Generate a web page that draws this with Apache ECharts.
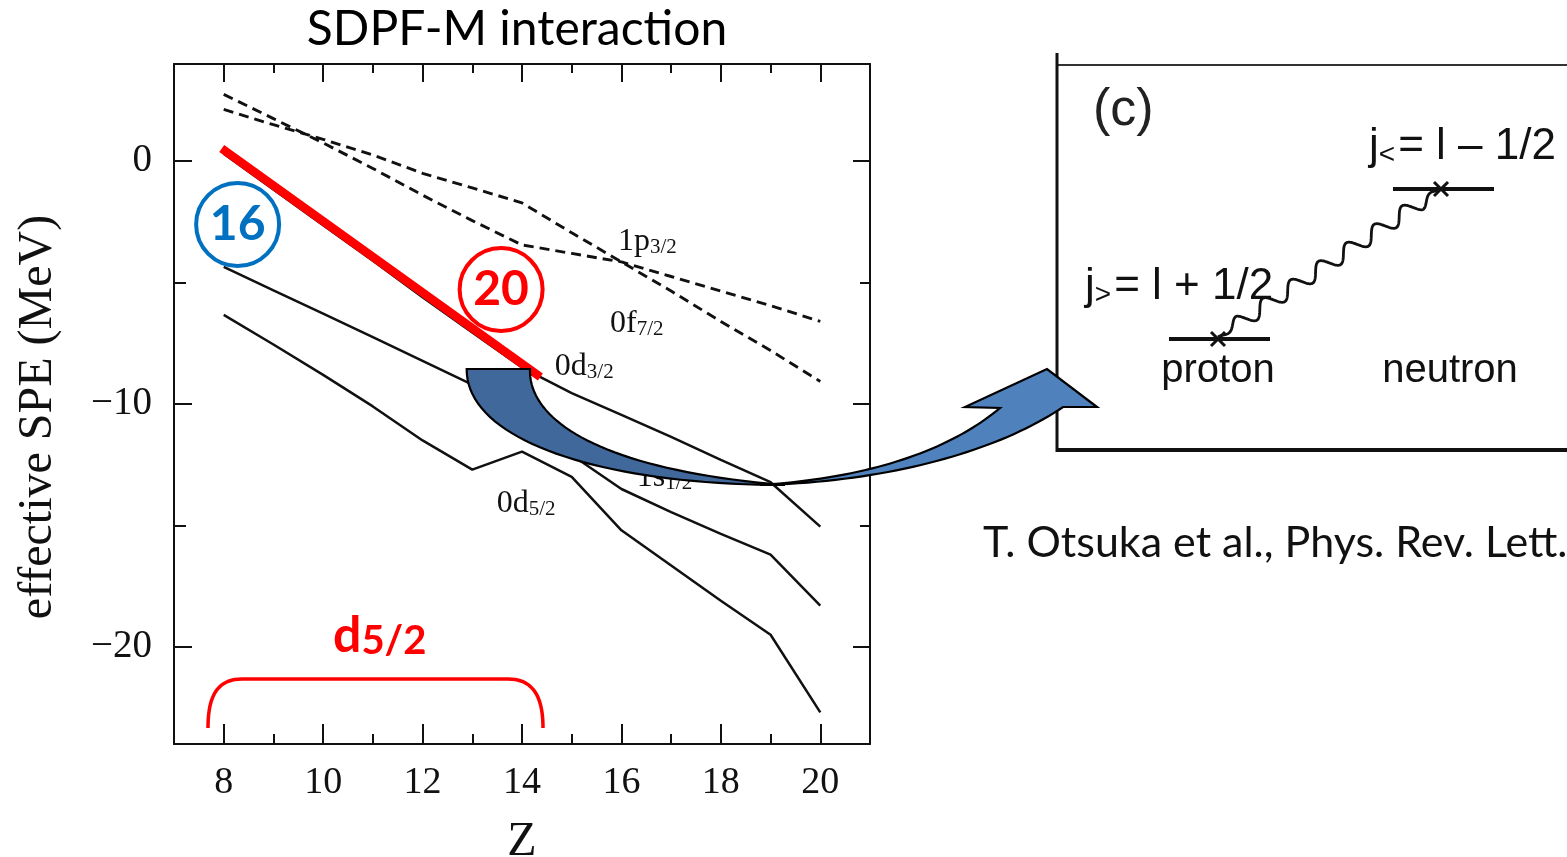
<!DOCTYPE html>
<html><head><meta charset="utf-8">
<script src="https://cdn.jsdelivr.net/npm/echarts@6/dist/echarts.min.js"></script>
<style>html,body{margin:0;padding:0;background:#fff;}#c{width:1567px;height:857px;}</style>
</head><body><div id="c"></div>
<script>
// ---- data ----
const zValues = [8, 9, 10, 11, 12, 13, 14, 15, 16, 17, 18, 19, 20];
const p32 = [2.75, 1.75, 0.75, -0.3, -1.4, -2.45, -3.45, -3.8, -4.15, -4.75, -5.35, -5.95, -6.6];
const f72 = [2.13, 1.5, 0.9, 0.25, -0.5, -1.1, -1.72, -2.95, -4.15, -5.35, -6.6, -7.8, -9.07];
const d32 = [0.3, -1.17, -2.64, -4.1, -5.6, -7.05, -8.5, -9.55, -10.45, -11.35, -12.3, -13.22, -15.05];
const s12 = [-4.35, -5.32, -6.28, -7.25, -8.22, -9.2, -10.65, -12.1, -13.5, -14.45, -15.35, -16.2, -18.3];
const d52 = [-6.33, -7.55, -8.8, -10.1, -11.5, -12.7, -11.96, -13.0, -15.2, -16.65, -18.1, -19.5, -22.7];
const redLineZ = [7.96, 14.37];
const redLineE = [0.52, -8.89];
const circleZ = [8.28, 13.58];
const circleE = [-2.61, -5.29];
const circleText = ['16', '20'];
const xMajor = [8, 10, 12, 14, 16, 18, 20];
const xMinor = [9, 11, 13, 15, 17, 19];
const yMajor = [0, -10, -20];
const yMinor = [-5, -15];
const labelMain = ['1p', '0f', '0d', '1s', '0d'];
const labelSub = ['3/2', '7/2', '3/2', '1/2', '5/2'];
const labelZ = [15.93, 15.77, 14.66, 16.31, 13.49];
const labelE = [-3.31, -6.69, -8.47, -13.04, -14.1];

const chart = echarts.init(document.getElementById('c'));
const INK = '#111';
const serif = 'Liberation Serif';
const sans = 'Liberation Sans';
const cal = 'Lato';

function xAx(pos, ticks, len, withLine, withLabel) {
  return {
    type: 'value', position: pos, min: 7, max: 21,
    axisLine: {show: withLine, onZero: false, lineStyle: {color: INK, width: 2}},
    axisTick: {show: true, inside: true, length: len, customValues: ticks, lineStyle: {color: INK, width: 2}},
    axisLabel: {show: withLabel, customValues: ticks, margin: 20, fontFamily: serif, fontSize: 38, color: INK},
    splitLine: {show: false}
  };
}
function yAx(pos, ticks, len, withLine, withLabel) {
  return {
    type: 'value', position: pos, min: -24, max: 4,
    axisLine: {show: withLine, onZero: false, lineStyle: {color: INK, width: 2}},
    axisTick: {show: true, inside: true, length: len, customValues: ticks, lineStyle: {color: INK, width: 2}},
    axisLabel: {show: withLabel, customValues: ticks, margin: 22, fontFamily: serif, fontSize: 39, color: INK,
      formatter: v => v < 0 ? '\u2212' + Math.abs(v) : String(v)},
    splitLine: {show: false}
  };
}
const xAxes = [xAx('bottom', xMajor, 20, true, true), xAx('bottom', xMinor, 10, false, false),
               xAx('top', xMajor, 18, true, false), xAx('top', xMinor, 9, false, false)];
Object.assign(xAxes[0], {name: 'Z', nameLocation: 'middle', nameGap: 74,
  nameTextStyle: {fontFamily: serif, fontSize: 48, color: INK}});
const yAxes = [yAx('left', yMajor, 18, true, true), yAx('left', yMinor, 12, false, false),
               yAx('right', yMajor, 17, true, false), yAx('right', yMinor, 10, false, false)];
Object.assign(yAxes[0], {name: 'effective SPE (MeV)', nameLocation: 'middle', nameGap: 112,
  nameTextStyle: {fontFamily: serif, fontSize: 48, color: INK, padding: [0, 26, 0, 0]}});

function curve(name, vals, dashed) {
  return {
    type: 'line', name, data: zValues.map((z, i) => [z, vals[i]]),
    showSymbol: false, symbol: 'none', silent: true, z: 2,
    lineStyle: {color: INK, width: dashed ? 2.9 : 2.5, type: dashed ? [10, 6] : 'solid'}
  };
}

chart.setOption({
  animation: false,
  backgroundColor: '#fff',
  grid: {left: 174, top: 64, right: 697, bottom: 113, containLabel: false, outerBoundsMode: 'none'},
  xAxis: xAxes,
  yAxis: yAxes,
  title: {text: 'SDPF-M interaction', left: 512, top: 1, textAlign: 'center',
    textStyle: {fontFamily: cal, fontWeight: 'normal', fontSize: 48, color: '#000'}},
  series: [
    curve('1p3/2', p32, true),
    curve('0f7/2', f72, true),
    curve('0d3/2', d32, false),
    curve('1s1/2', s12, false),
    curve('0d5/2', d52, false),
    {type: 'line', name: 'red', data: redLineZ.map((z, i) => [z, redLineE[i]]), showSymbol: false, symbol: 'none',
      z: 3, silent: true, lineStyle: {color: '#ff0000', width: 8.5, cap: 'butt'}},
    {type: 'scatter', name: 'circles', z: 6, silent: true, symbol: 'circle', symbolSize: 83,
      data: circleZ.map((z, i) => ({value: [z, circleE[i]], itemStyle: {borderColor: i === 0 ? '#0070c0' : '#ff0000'},
        label: {color: i === 0 ? '#0070c0' : '#ff0000'}})),
      itemStyle: {color: 'rgba(255,255,255,0)', borderWidth: 4, opacity: 1},
      label: {show: true, position: 'inside', fontFamily: cal, fontWeight: 'bold', fontSize: 48,
        formatter: p => circleText[p.dataIndex]}}
  ]
});

// ---- annotation helpers ----
function cubic(a, b, c, d, n) {
  const out = [];
  for (let i = 1; i <= n; i++) {
    const t = i / n, u = 1 - t;
    out.push([u*u*u*a[0] + 3*u*u*t*b[0] + 3*u*t*t*c[0] + t*t*t*d[0],
              u*u*u*a[1] + 3*u*u*t*b[1] + 3*u*t*t*c[1] + t*t*t*d[1]]);
  }
  return out;
}
const g = [];
labelMain.forEach((m, i) => {
  const p = chart.convertToPixel({xAxisIndex: 0, yAxisIndex: 0}, [labelZ[i], labelE[i]]);
  g.push({type: 'text', x: p[0], y: p[1] - 16, z: i === 3 ? 50 : 120, style: {
    text: '{m|' + m + '}{s|' + labelSub[i] + '}', align: 'left', verticalAlign: 'top',
    rich: {m: {fontFamily: serif, fontSize: 32, lineHeight: 32, fill: INK, verticalAlign: 'top'},
           s: {fontFamily: serif, fontSize: 21, lineHeight: 21, fill: INK, verticalAlign: 'bottom', padding: [16, 0, 0, 0]}}
  }});
});
// d5/2 bracket
const br = [[208, 728]].concat(cubic([208, 728], [208, 698], [216, 679], [242, 679], 20), [[508, 679]],
  cubic([508, 679], [534, 679], [543, 698], [543, 728], 20));
g.push({type: 'polyline', z: 120, shape: {points: br}, style: {fill: null, stroke: '#ff0000', lineWidth: 3.5}});
g.push({type: 'text', x: 333, y: 611, z: 120, style: {text: '{m|d}{s|5/2}', align: 'left', verticalAlign: 'top',
  rich: {m: {fontFamily: cal, fontWeight: 'bold', fontSize: 50, lineHeight: 50, fill: '#ff0000', verticalAlign: 'top'},
         s: {fontFamily: cal, fontWeight: 'bold', fontSize: 40, lineHeight: 40, fill: '#ff0000', verticalAlign: 'bottom', padding: [22, 0, 0, 0]}}}});
// curved arrow
const light = [[760, 485]].concat(cubic([760, 485], [890, 482], [1000, 450], [1063, 407], 40),
  [[1097, 407], [1047, 369], [965, 407], [1000, 408]], cubic([1000, 408], [950, 450], [870, 478], [760, 485], 40));
g.push({type: 'polygon', z: 100, shape: {points: light}, style: {fill: '#4f81bd', stroke: '#000', lineWidth: 2.2}});
const dark = [[466.7, 369], [530, 369]].concat(cubic([530, 369], [528, 420], [600, 470], [785, 485], 40),
  cubic([785, 485], [600, 485], [466, 440], [466.7, 369], 40));
g.push({type: 'polygon', z: 101, shape: {points: dark}, style: {fill: '#41689b', stroke: '#000', lineWidth: 2.2}});
// panel (c)
g.push({type: 'line', z: 90, shape: {x1: 1057, y1: 65, x2: 1567, y2: 65}, style: {stroke: '#333', lineWidth: 2}});
g.push({type: 'line', z: 90, shape: {x1: 1057, y1: 53, x2: 1057, y2: 452}, style: {stroke: '#111', lineWidth: 3}});
g.push({type: 'line', z: 90, shape: {x1: 1057, y1: 450, x2: 1567, y2: 450}, style: {stroke: '#111', lineWidth: 4}});
g.push({type: 'text', x: 1093, y: 111, z: 90, style: {text: '(c)', fontFamily: sans, fontSize: 52, fill: '#222', align: 'left', verticalAlign: 'middle'}});
function jText(x, y, sub, rest) {
  return {type: 'text', x, y, z: 90, style: {text: '{j|j}{s|' + sub + '}{t|' + rest + '}', align: 'left', verticalAlign: 'top',
    rich: {j: {fontFamily: sans, fontSize: 44, lineHeight: 44, fill: '#111', verticalAlign: 'top'},
           s: {fontFamily: sans, fontSize: 28, lineHeight: 28, fill: '#111', verticalAlign: 'bottom', padding: [24, 3, 0, 0]},
           t: {fontFamily: sans, fontSize: 44, lineHeight: 44, fill: '#111', verticalAlign: 'top'}}}};
}
g.push(jText(1369, 125, '<', '= l \u2013 1/2'));
g.push(jText(1085, 265, '>', '= l + 1/2'));
g.push({type: 'line', z: 90, shape: {x1: 1393, y1: 189, x2: 1494, y2: 189}, style: {stroke: '#111', lineWidth: 4}});
g.push({type: 'line', z: 90, shape: {x1: 1169, y1: 339, x2: 1270, y2: 339}, style: {stroke: '#111', lineWidth: 4}});
function xMark(cx, cy) {
  const r = 7;
  return [{type: 'line', z: 91, shape: {x1: cx - r, y1: cy - r, x2: cx + r, y2: cy + r}, style: {stroke: '#111', lineWidth: 3}},
          {type: 'line', z: 91, shape: {x1: cx - r, y1: cy + r, x2: cx + r, y2: cy - r}, style: {stroke: '#111', lineWidth: 3}}];
}
g.push(...xMark(1218, 339), ...xMark(1441, 189));
(function () {
  const p0 = [1218, 337], p1 = [1441, 189];
  const dx = p1[0] - p0[0], dy = p1[1] - p0[1], L = Math.hypot(dx, dy);
  const nx = -dy / L, ny = dx / L, pts = [];
  for (let i = 0; i <= 400; i++) {
    const t = i / 400, s = Math.sin(t * 8 * 2 * Math.PI) * 7.5 * Math.min(1, t * 10, (1 - t) * 10);
    pts.push([p0[0] + dx * t + nx * s, p0[1] + dy * t + ny * s]);
  }
  g.push({type: 'polyline', z: 90, shape: {points: pts}, style: {stroke: '#111', lineWidth: 2.8, fill: null}});
})();
g.push({type: 'text', x: 1218, y: 371, z: 90, style: {text: 'proton', fontFamily: sans, fontSize: 40, fill: '#111', align: 'center', verticalAlign: 'middle'}});
g.push({type: 'text', x: 1450, y: 371, z: 90, style: {text: 'neutron', fontFamily: sans, fontSize: 40, fill: '#111', align: 'center', verticalAlign: 'middle'}});
// citation
g.push({type: 'text', x: 983, y: 543, z: 90, style: {text: 'T. Otsuka et al., Phys. Rev. Lett.', fontFamily: cal, fontSize: 43, fill: '#111', align: 'left', verticalAlign: 'middle'}});

chart.setOption({graphic: {elements: g}});
</script></body></html>
